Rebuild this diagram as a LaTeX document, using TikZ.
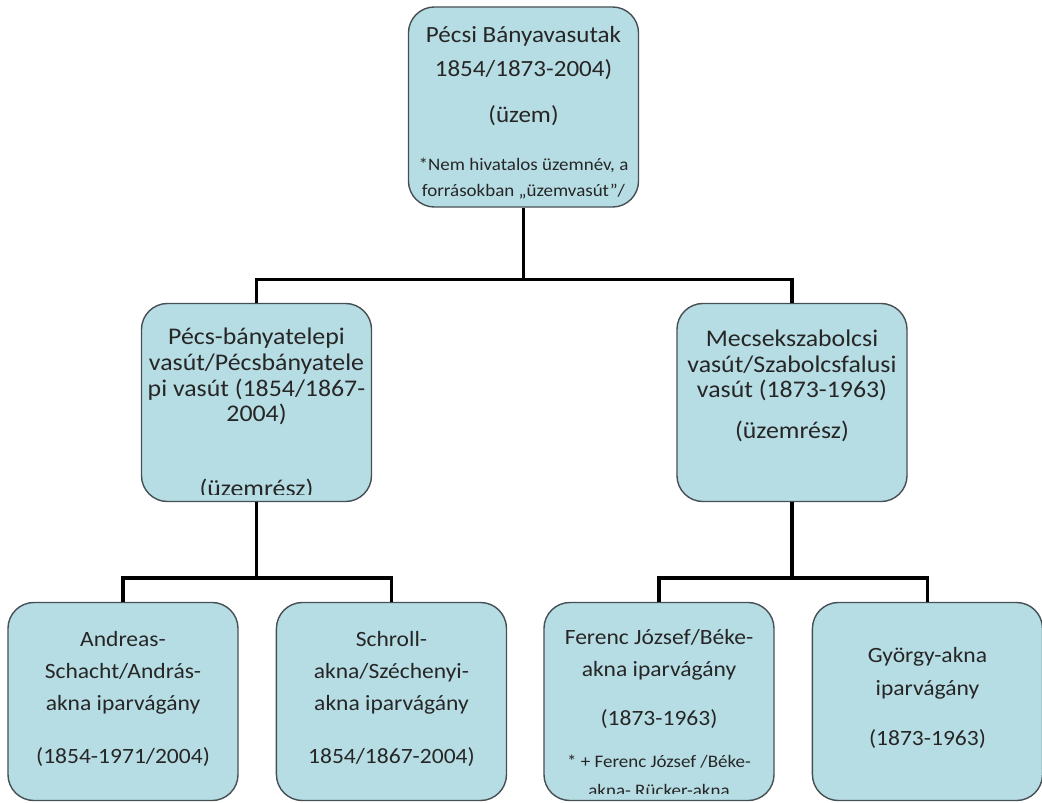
\documentclass[tikz,border=0pt]{standalone}
\usepackage{fontspec}
\setmainfont{Carlito}[FakeStretch=1.08]
\usetikzlibrary{positioning, calc}
\definecolor{boxfill}{RGB}{183,221,228}
\definecolor{boxedge}{RGB}{70,80,84}
\definecolor{txtgray}{RGB}{38,38,38}
\newcommand\tightlines{\lineskiplimit-20pt\relax}
\tikzstyle{railbox} = [rectangle, rounded corners=0.65cm, minimum width=5.75cm, minimum height=4.95cm, draw=boxedge, line width=1pt, fill=boxfill]
\tikzstyle{toptext} = [align=center, inner sep=0pt, text=txtgray, font=\fontsize{16.5}{24}\selectfont]
\tikzstyle{midtext} = [align=center, inner sep=0pt, text=txtgray, font=\fontsize{17}{18.2}\selectfont\tightlines]
\tikzstyle{lowtext} = [align=center, inner sep=0pt, text=txtgray, font=\fontsize{15.5}{23}\selectfont]
\tikzstyle{notetext} = [align=center, inner sep=0pt, text=txtgray, font=\fontsize{12.5}{18}\selectfont]
\tikzstyle{line} = [line width=2.5pt, black]

\begin{document}
\begin{tikzpicture}[x=0.025cm, y=-0.025cm]
\useasboundingbox (0,0) rectangle (1042,803);

% boxes
\node (top) [railbox, minimum height=5cm] at (523.5,107) {};
\node (pbv) [railbox] at (256.5,402.5) {};
\node (msz) [railbox] at (792,402.5) {};
\node (andras) [railbox] at (123,701.5) {};
\node (schroll) [railbox, right=0.925cm of andras] {};
\node (ferenc) [railbox] at (659,701.5) {};
\node (gyorgy) [railbox, right=0.925cm of ferenc] {};

% texts
\node (topname) [toptext, anchor=base] at ($(top.north)+(0,70)$) {Pécsi Bányavasutak\\1854/1873-2004)};
\node (topkind) [toptext, anchor=base] at ($(top.north)+(0,116)$) {(üzem)};
\node (topnote) [notetext, anchor=base] at ($(top.north)+(0,190)$) {*Nem hivatalos üzemnév, a\\forrásokban „üzemvasút”/};

\begin{scope}
\clip ($(pbv.south west)+(0,-8)$) rectangle (pbv.north east);
\node (pbvname) [midtext, anchor=base] at ($(pbv.north)+(0,119)$) {Pécs-bányatelepi\\vasút/Pécsbányatele\\pi vasút (1854/1867-\\2004)};
\node (pbvkind) [midtext, anchor=base] at ($(pbv.north)+(0,194)$) {(üzemrész)};
\end{scope}

\node (mszname) [midtext, anchor=base] at ($(msz.north)+(0,95)$) {Mecsekszabolcsi\\vasút/Szabolcsfalusi\\vasút (1873-1963)};
\node (mszkind) [midtext, anchor=base] at ($(msz.north)+(0,136)$) {(üzemrész)};

\node (andrasname) [lowtext, anchor=base] at ($(andras.north)+(0,109)$) {Andreas-\\Schacht/András-\\akna iparvágány};
\node (andrasyear) [lowtext, anchor=base] at ($(andras.north)+(0,162)$) {(1854-1971/2004)};

\node (schrollname) [lowtext, anchor=base] at ($(schroll.north)+(0,109)$) {Schroll-\\akna/Széchenyi-\\akna iparvágány};
\node (schrollyear) [lowtext, anchor=base] at ($(schroll.north)+(0,162)$) {1854/1867-2004)};

\begin{scope}
\clip ($(ferenc.south west)+(0,-8)$) rectangle (ferenc.north east);
\node (ferencname) [lowtext, anchor=base] at ($(ferenc.north)+(0,75)$) {Ferenc József/Béke-\\akna iparvágány};
\node (ferencyear) [lowtext, anchor=base] at ($(ferenc.north)+(0,124)$) {(1873-1963)};
\node (ferencnote) [notetext, font=\fontsize{12.5}{21}\selectfont, anchor=base] at ($(ferenc.north)+(0,195)$) {* + Ferenc József /Béke-\\akna- Rücker-akna};
\end{scope}

\node (gyorgyname) [lowtext, font=\fontsize{15.5}{24}\selectfont, anchor=base] at ($(gyorgy.north)+(0,94)$) {György-akna\\iparvágány};
\node (gyorgyyear) [lowtext, anchor=base] at ($(gyorgy.north)+(0,144)$) {(1873-1963)};

% connectors
\draw [line] (top.south) -- ++(0,72) -| (pbv.north);
\draw [line] (top.south) -- ++(0,72) -| (msz.north);
\draw [line] (pbv.south) -- ++(0,76) -| (andras.north);
\draw [line] (pbv.south) -- ++(0,76) -| (schroll.north);
\draw [line] (msz.south) -- ++(0,76) -| (ferenc.north);
\draw [line] (msz.south) -- ++(0,76) -| (gyorgy.north);
\end{tikzpicture}
\end{document}
